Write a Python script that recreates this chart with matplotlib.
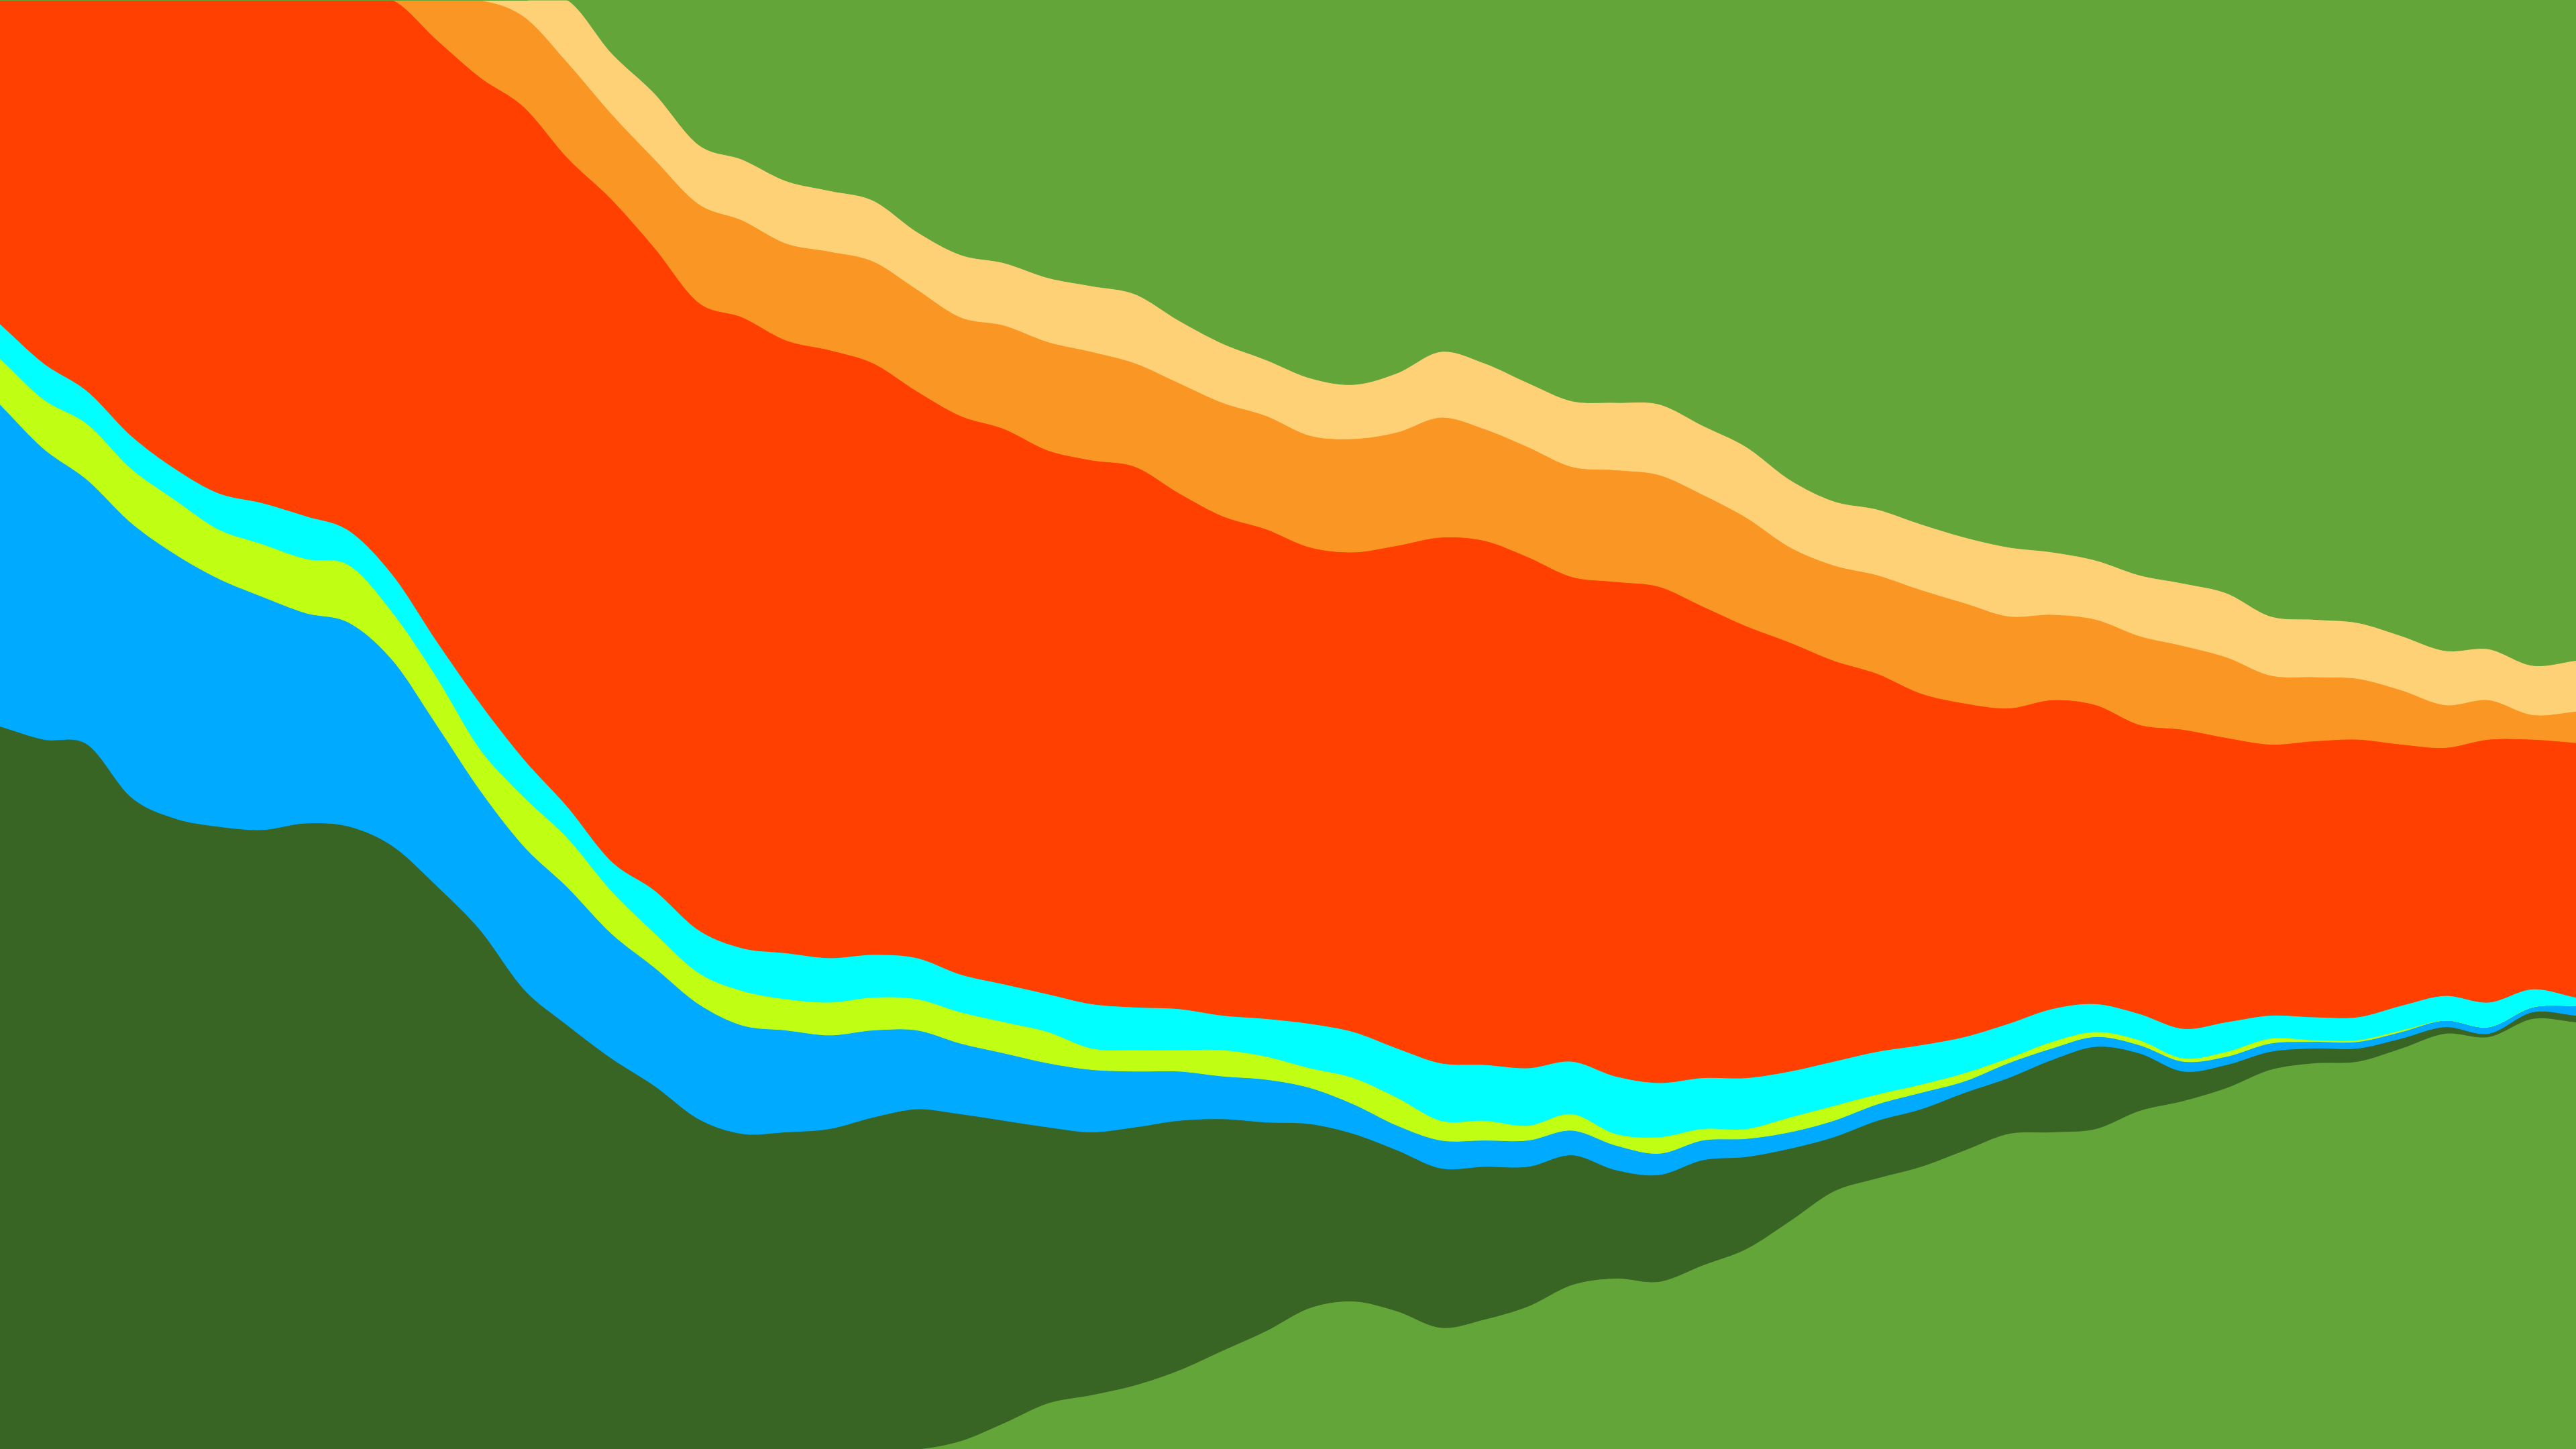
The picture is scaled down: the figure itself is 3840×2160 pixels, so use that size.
import matplotlib.pyplot as plt
import numpy as np
from matplotlib.path import Path
from matplotlib.patches import PathPatch

# one value per year (each column sums to the same total)
years = np.arange(1961, 2021)

green_low = [0, 0, 0, 0, 0, 0, 0, 0, 0, 0,
             0, 0, 0, 0, 0, 0, 0, 0, 0, 0,
             0, 0, 5, 16, 28, 33, 39, 48, 60, 72,
             86, 90, 84, 74, 79, 87, 100, 104, 102, 112,
             122, 139, 157, 165, 172, 182, 192, 193, 195, 206,
             212, 220, 231, 235, 236, 244, 253, 251, 262, 260]
dark_green = [440, 432, 429, 397, 384, 379, 377, 381, 379, 367,
              343, 316, 280, 258, 238, 221, 201, 192, 193, 195,
              202, 207, 199, 184, 168, 160, 157, 152, 141, 127,
              112, 102, 98, 97, 93, 85, 79, 66, 65, 64,
              56, 44, 33, 35, 35, 35, 34, 44, 50, 35,
              18, 14, 11, 9, 8, 6, 4, 2, 4, 4]
blue = [196, 177, 161, 167, 161, 151, 142, 128, 124, 113,
        98, 85, 87, 84, 76, 72, 70, 66, 62, 57,
        53, 48, 43, 41, 39, 38, 34, 30, 26, 26,
        22, 18, 15, 17, 16, 16, 15, 15, 13, 12,
        11, 10, 10, 10, 10, 7, 9, 7, 6, 5,
        6, 5, 5, 4, 4, 4, 4, 4, 3, 6]
lime = [28, 30, 34, 33, 33, 30, 32, 33, 35, 29,
        29, 25, 30, 30, 26, 21, 19, 21, 19, 20,
        20, 19, 19, 19, 19, 13, 13, 13, 16, 14,
        12, 16, 17, 12, 12, 9, 10, 7, 10, 7,
        6, 9, 9, 6, 5, 5, 3, 4, 3, 3,
        2, 3, 3, 1, 1, 1, 0, 0, 0, 0]
cyan = [21, 22, 20, 20, 19, 22, 25, 26, 21, 23,
        22, 28, 23, 19, 18, 26, 26, 26, 28, 27,
        26, 25, 23, 23, 23, 27, 26, 25, 21, 23,
        27, 28, 30, 35, 34, 35, 32, 35, 33, 31,
        31, 28, 27, 26, 24, 22, 21, 20, 17, 16,
        18, 18, 14, 14, 14, 15, 15, 15, 11, 5]
red = [197, 221, 238, 265, 285, 300, 306, 314, 323, 350,
       366, 381, 397, 395, 403, 391, 382, 384, 373, 370,
       360, 345, 340, 338, 331, 331, 329, 314, 304, 298,
       290, 292, 306, 320, 319, 311, 295, 301, 302, 287,
       275, 261, 244, 230, 214, 203, 192, 188, 182, 176,
       182, 173, 165, 168, 169, 159, 151, 160, 152, 155]
orange = [0, 0, 0, 0, 0, 0, 0, 0, 0, 0,
          24, 47, 55, 58, 52, 54, 60, 59, 59, 60,
          62, 62, 60, 63, 66, 66, 63, 67, 69, 69,
          68, 69, 69, 73, 68, 67, 67, 68, 68, 68,
          66, 58, 58, 60, 63, 61, 56, 52, 52, 54,
          51, 49, 42, 39, 37, 33, 26, 24, 15, 19]
yellow = [0, 0, 0, 0, 0, 0, 0, 0, 0, 0,
          0, 0, 10, 38, 37, 40, 36, 37, 38, 37,
          37, 35, 38, 38, 39, 40, 42, 38, 36, 34,
          35, 33, 36, 40, 40, 39, 40, 41, 43, 42,
          43, 41, 39, 40, 40, 40, 42, 38, 36, 37,
          38, 39, 36, 35, 34, 33, 33, 31, 30, 31]
green_top = [0, 0, 0, 0, 0, 0, 0, 0, 0, 0,
             0, 0, 0, 0, 32, 57, 88, 97, 110, 116,
             122, 141, 155, 160, 169, 174, 179, 195, 209, 219,
             230, 234, 227, 214, 221, 233, 244, 245, 246, 259,
             272, 292, 305, 310, 319, 327, 333, 336, 341, 350,
             355, 361, 375, 377, 379, 387, 396, 395, 405, 402]

colors = ["#63a539", "#386424", "#00aaff", "#c0ff14", "#00ffff",
          "#ff4000", "#f99624", "#ffd176", "#63a539"]

layers = np.array([green_low, dark_green, blue, lime, cyan,
                   red, orange, yellow, green_top], dtype=float)
shares = 100 * layers / layers.sum(axis=0)
edges = np.vstack([np.zeros(len(years)), np.cumsum(shares, axis=0)])


def curve(x, y):
    # catmull-rom style bezier segments through the data points (drawing only)
    d = np.gradient(y, x)
    h = np.diff(x) / 3
    verts = []
    for k in range(len(x) - 1):
        verts += [(x[k] + h[k], y[k] + d[k] * h[k]),
                  (x[k + 1] - h[k], y[k + 1] - d[k + 1] * h[k]),
                  (x[k + 1], y[k + 1])]
    return verts


x = years.astype(float)
fig = plt.figure(figsize=(38.4, 21.6), dpi=100)
ax = fig.add_axes([0, 0, 1, 1])

for j, c in enumerate(colors):
    top = curve(x, edges[j + 1])
    bot = curve(x[::-1], edges[j][::-1])
    verts = ([(x[0], edges[j + 1][0])] + top +
             [(x[-1], edges[j][-1])] + bot + [(x[0], edges[j + 1][0])])
    codes = ([Path.MOVETO] + [Path.CURVE4] * len(top) +
             [Path.LINETO] + [Path.CURVE4] * len(bot) + [Path.CLOSEPOLY])
    ax.add_patch(PathPatch(Path(verts, codes), facecolor=c, edgecolor=c,
                           linewidth=0.8))

ax.set_xlim(x[0], x[-1])
ax.set_ylim(0, 100)
ax.axis("off")

fig.savefig("out.png", dpi=100)
